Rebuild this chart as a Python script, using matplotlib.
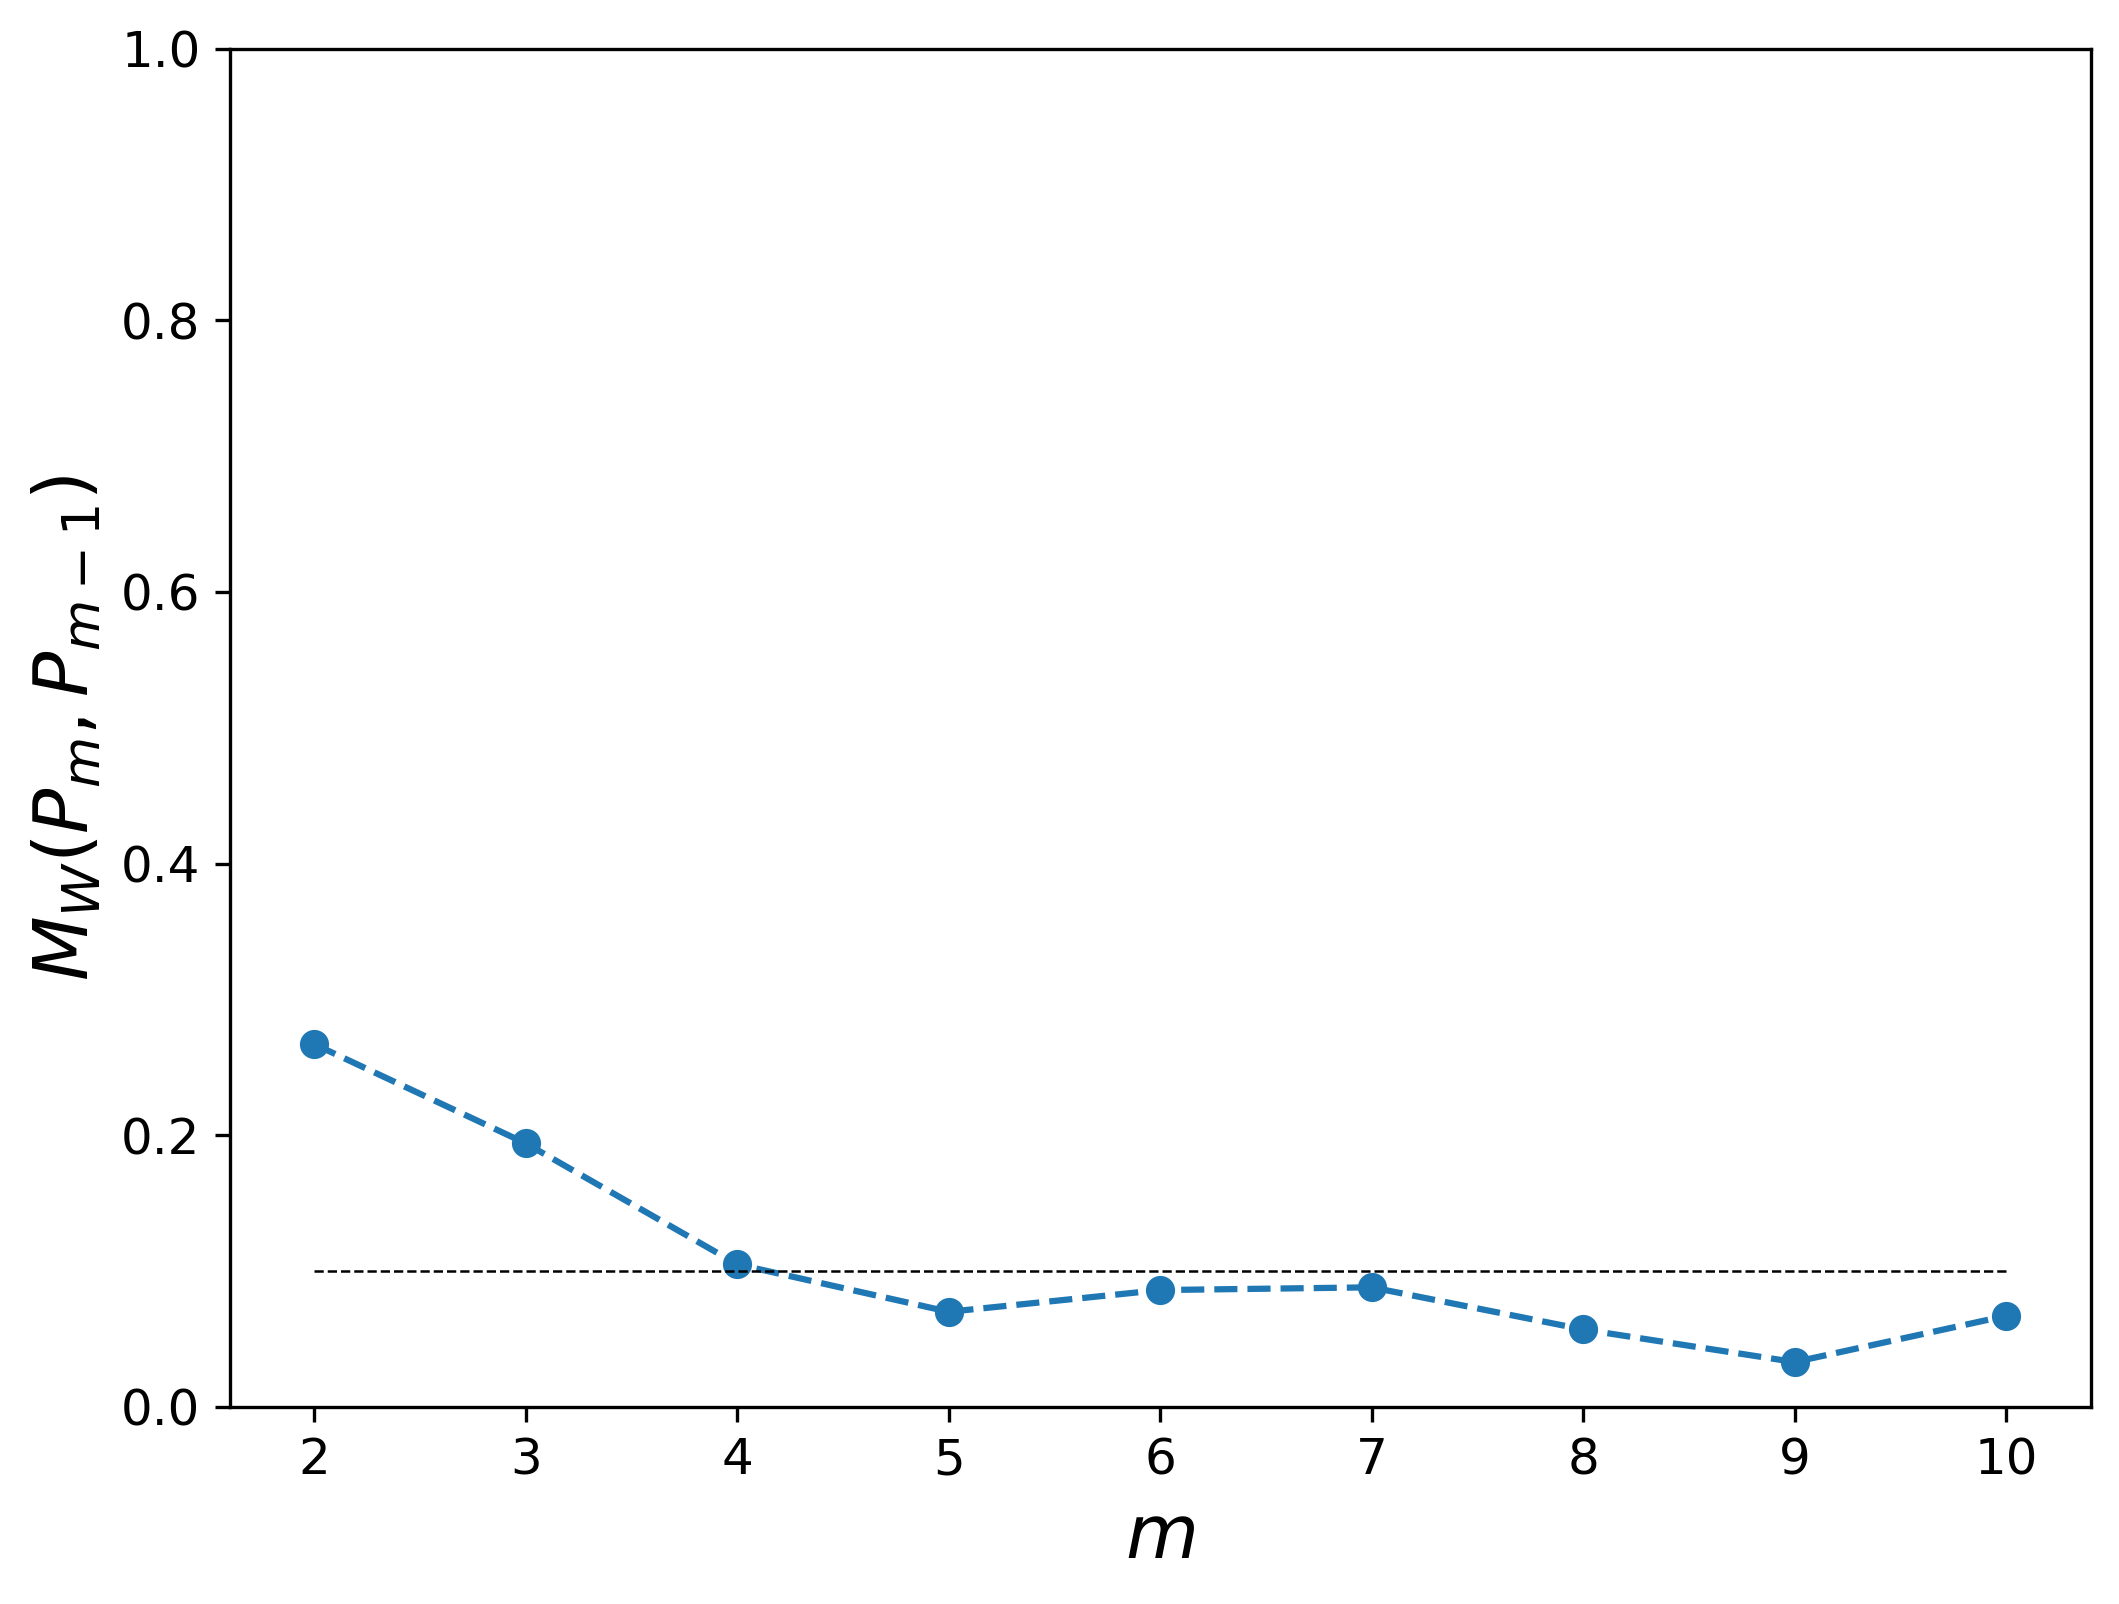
import numpy as np
import matplotlib
matplotlib.use('Agg')
import matplotlib.pyplot as plt

# 데이터
m_values = [2, 3, 4, 5, 6, 7, 8, 9, 10]
mw_values = [0.267, 0.194, 0.105, 0.070, 0.086, 0.088, 0.057, 0.033, 0.067]
threshold = 0.1

fig = plt.figure(figsize=(2119 / 300, 1604 / 300), dpi=300)
ax = fig.add_axes([0.1084, 0.1229, 0.9866 - 0.1084, 0.9697 - 0.1229])

ax.plot(m_values, mw_values, 'o--', color='tab:blue')
ax.plot([m_values[0], m_values[-1]], [threshold, threshold], 'k--', linewidth=0.6)

ax.set_ylim(0, 1)
ax.set_xticks(m_values)
ax.tick_params(labelsize=12)
ax.set_xlabel(r'$m$', fontsize=18)
ax.set_ylabel(r'$M_W(P_m, P_{m-1})$', fontsize=18)

fig.savefig('out.png', dpi=300)
